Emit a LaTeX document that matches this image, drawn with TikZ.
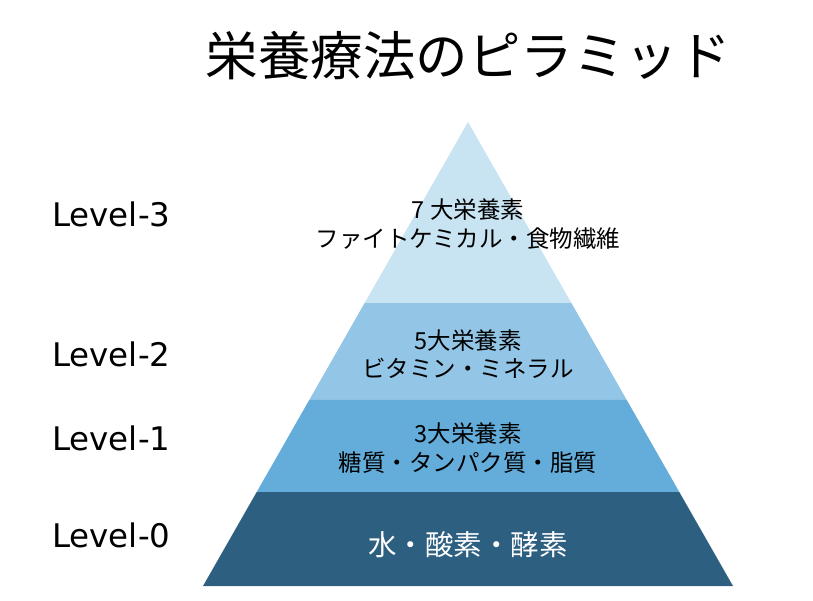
\documentclass[tikz,border=0pt]{standalone}
\usepackage{fontspec}
\setmainfont{Noto Sans CJK JP}
\newfontfamily\lvfont{DejaVu Sans}
\usetikzlibrary{calc}
\definecolor{bandthree}{HTML}{C8E3F2}
\definecolor{bandtwo}{HTML}{93C6E6}
\definecolor{bandone}{HTML}{64ADDB}
\definecolor{bandzero}{HTML}{2D5F80}
\tikzset{
  bandtext/.style={align=center, inner sep=0pt, text=black, font=\fontsize{23.5}{28.5}\selectfont},
  basetext/.style={align=center, inner sep=0pt, text=white, font=\fontsize{28.5}{32}\selectfont},
  levellabel/.style={anchor=base west, inner sep=0pt, text=black, font=\lvfont\fontsize{32.5}{36}\selectfont},
  titletext/.style={inner sep=0pt, text=black, font=\fontsize{52.5}{58}\selectfont}
}
\begin{document}
\begin{tikzpicture}[x=1pt,y=-1pt]
\useasboundingbox (0,0) rectangle (813,600);
\coordinate (apex) at (468,122);
\coordinate (bl) at (203,586);
\coordinate (br) at (733,586);
\coordinate (l3) at ($(apex)!0.3901!(bl)$);
\coordinate (r3) at ($(apex)!0.3901!(br)$);
\coordinate (l2) at ($(apex)!0.5991!(bl)$);
\coordinate (r2) at ($(apex)!0.5991!(br)$);
\coordinate (l1) at ($(apex)!0.7974!(bl)$);
\coordinate (r1) at ($(apex)!0.7974!(br)$);
\fill[bandthree] (apex) -- (r3) -- (l3) -- cycle;
\fill[bandtwo] (l3) -- (r3) -- (r2) -- (l2) -- cycle;
\fill[bandone] (l2) -- (r2) -- (r1) -- (l1) -- cycle;
\fill[bandzero] (l1) -- (r1) -- (br) -- (bl) -- cycle;
\node[titletext] (title) at (468,56) {栄養療法のピラミッド};
\node[bandtext] (t3) at (468,224) {7 大栄養素\\ファイトケミカル・食物繊維};
\node[bandtext] (t2) at (468,354) {5大栄養素\\ビタミン・ミネラル};
\node[bandtext] (t1) at (468,448) {3大栄養素\\糖質・タンパク質・脂質};
\node[basetext] (t0) at (468,545) {水・酸素・酵素};
\node[levellabel] (lv3) at (52,226) {Level-3};
\node[levellabel] (lv2) at (52,366) {Level-2};
\node[levellabel] (lv1) at (52,450) {Level-1};
\node[levellabel] (lv0) at (52,547) {Level-0};
\end{tikzpicture}
\end{document}
